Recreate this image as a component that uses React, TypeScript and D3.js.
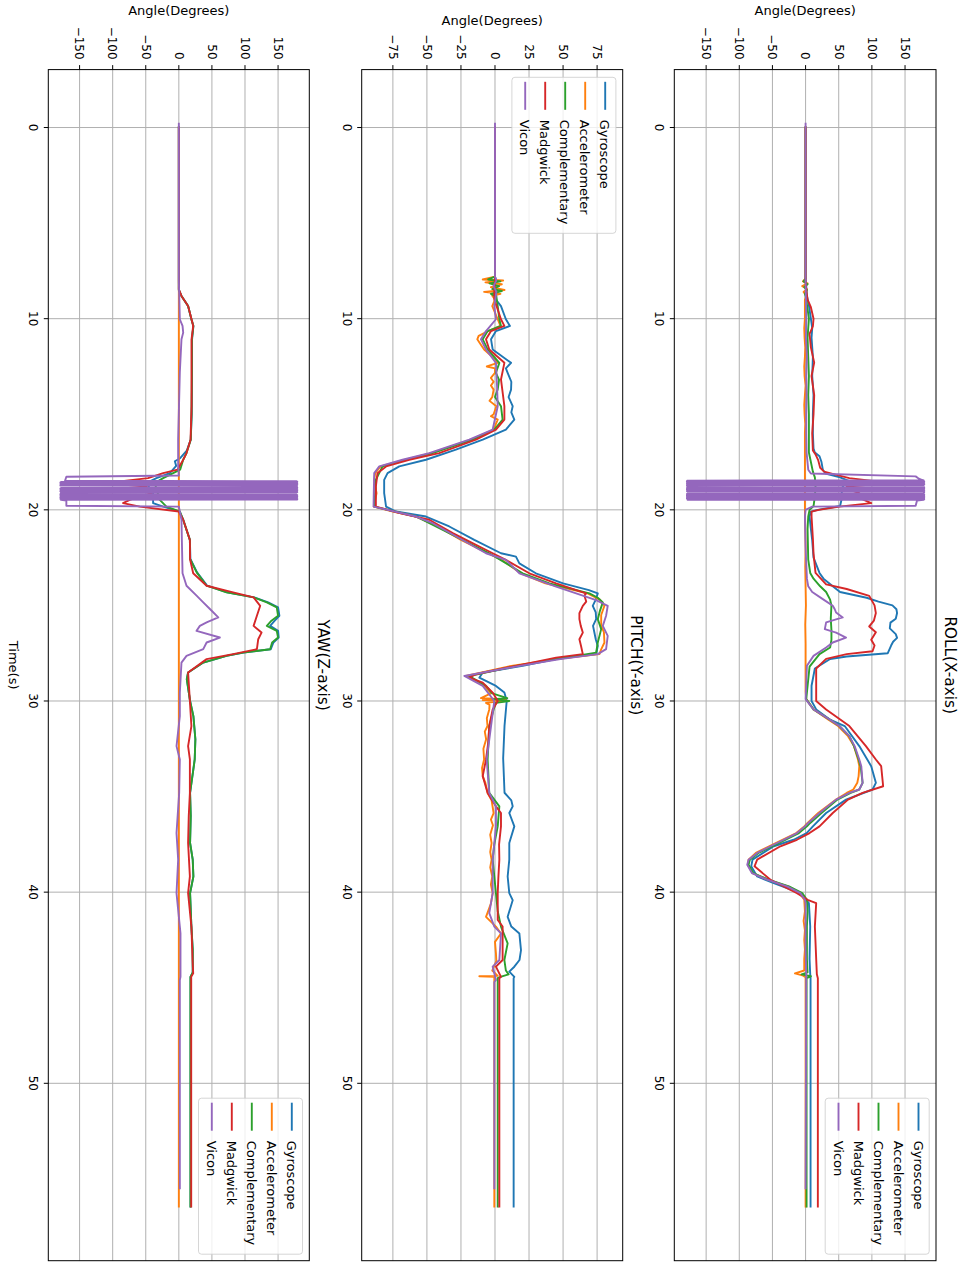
import React from 'react';
import * as d3 from 'd3';

type Pt = [number, number];

// legend / colours (matplotlib tab10)
const seriesNames = ['Gyroscope', 'Accelerometer', 'Complementary', 'Madgwick', 'Vicon'];
const seriesColors = ['#1f77b4', '#ff7f0e', '#2ca02c', '#d62728', '#9467bd'];

const timeTicks = [0, 10, 20, 30, 40, 50];
const rollTicks = [-150, -100, -50, 0, 50, 100, 150];
const pitchTicks = [-75, -50, -25, 0, 25, 50, 75];
const yawTicks = [-150, -100, -50, 0, 50, 100, 150];

// ---------------- ROLL ----------------
const rollGyro: Pt[] = [
  [0, 0], [7.9, 0], [8.3, 1], [8.8, 2], [9.3, 5], [10.0, 8], [10.5, 10], [11.0, 9], [12.0, 11], [13.0, 10],
  [14.0, 12], [15.0, 11], [16.0, 11], [16.8, 12], [17.0, 14], [17.2, 21], [17.5, 24], [17.9, 26], [18.1, 30],
  [18.3, 52], [18.5, 66], [18.7, 58], [18.9, 54], [19.2, 55], [19.5, 54], [19.8, 52], [20.0, 18], [20.1, 8],
  [20.35, 6], [21.0, 8], [21.6, 10], [22.5, 12], [23.3, 21], [23.6, 27], [24.0, 41], [24.3, 52], [24.6, 92],
  [24.8, 110], [25.0, 131], [25.2, 137], [25.4, 138], [25.7, 136], [25.9, 128], [26.2, 127], [26.5, 136],
  [26.7, 138], [26.9, 132], [27.1, 129], [27.5, 124], [27.67, 62], [27.8, 37], [28.3, 14], [29.2, 9], [30.0, 9],
  [30.44, 16], [30.96, 36], [31.31, 59], [32.36, 81], [33.41, 99], [34.28, 106], [34.63, 101], [35.16, 61],
  [35.86, 31], [36.56, 11], [36.91, 1.5], [37.26, -18], [37.6, -48], [38.3, -80], [38.65, -82], [39.18, -73],
  [39.53, -48], [40.05, -8], [40.58, 5], [41.8, 7], [43.5, 6], [44.3, 7], [44.5, 7.5], [56.45, 7.5],
];
const rollAcc: Pt[] = [
  [0, 0], [7.9, 0], [8.05, -4], [8.15, 3], [8.3, -5], [8.45, 2], [8.6, -3], [8.8, 1], [9.0, -1], [10, -1],
  [10.5, -2], [11, -1.5], [11.5, -0.5], [12, -1], [12.5, -2], [13, -1.5], [13.5, 0], [14, -1], [14.5, -2],
  [15, -1.5], [15.5, -0.5], [16, -1], [17, -1], [18, -1], [19, -1], [20, -1], [21, -0.5], [22, 0], [23, -0.5],
  [24, 0], [25, 0.5], [26, -0.5], [27, 0], [28, 0], [29.5, 0], [29.9, 1],
  [30.44, 12], [30.96, 34], [31.31, 49], [31.84, 64], [32.36, 73], [33.06, 79], [33.41, 81], [33.93, 80],
  [34.28, 78], [34.63, 72], [34.81, 62], [35.16, 46], [35.86, 19], [36.38, 3], [36.56, -2], [36.91, -14],
  [37.26, -35], [37.6, -55], [37.95, -75], [38.3, -86], [38.57, -87], [39.0, -80], [39.35, -57], [39.7, -27],
  [40.05, -9], [40.4, -2], [41, -1], [41.5, -3], [42, -1], [42.5, -2], [43, -1], [43.5, -2], [44.1, -2],
  [44.25, -16], [44.35, -5], [44.45, 0], [56.45, 0],
];
const rollComp: Pt[] = [
  [0, 0], [7.9, 0], [8.05, -3], [8.2, 3], [8.35, -2], [8.5, 2], [8.7, -1], [9.0, 1], [9.5, 3], [10.0, 5],
  [11.0, 3], [12.0, 4], [13.0, 5], [14.0, 4], [15.0, 5], [16.0, 5], [17.0, 5], [17.5, 8], [18.0, 11], [18.3, 14],
  [18.8, 15], [19.3, 14], [19.8, 12], [20.0, 6], [20.35, 4], [21.0, 3], [22.6, 4], [23.3, 7], [23.6, 12],
  [24.0, 22], [24.3, 31], [24.7, 37], [25.0, 39], [25.7, 38], [26.3, 39], [26.8, 39], [27.2, 37], [27.55, 21],
  [28.2, 6], [29.9, 1], [30.44, 12], [30.96, 36], [31.31, 51], [31.84, 66], [32.36, 73], [33.06, 80],
  [33.41, 83], [34.28, 86], [34.63, 81], [34.81, 68], [35.16, 48], [35.86, 24], [36.38, 7], [36.56, 2],
  [36.91, -10], [37.26, -30], [37.6, -50], [37.95, -71], [38.3, -84], [38.57, -86], [39.0, -79], [39.35, -56],
  [39.7, -25], [40.05, -5], [40.4, 2], [41.0, 3], [41.8, 2], [43.5, 2], [44.2, 3], [44.3, -6], [44.4, 8],
  [44.5, 1.5], [56.45, 1.5],
];
const rollMadg: Pt[] = [
  [0, 0], [8.0, 0], [8.5, 1], [9.0, 3], [9.4, 8], [10.0, 12], [10.4, 11], [10.8, 6], [11.5, 8], [12.3, 13],
  [13.0, 9], [14.0, 13], [15.0, 12], [16.0, 10], [16.9, 11], [17.1, 15], [17.4, 19], [17.8, 22], [18.0, 28],
  [18.16, 45], [18.34, 66], [18.6, 129], [18.78, 62], [19.0, 70], [19.13, 81], [19.3, 76], [19.65, 99],
  [19.83, 51], [20.0, 20], [20.09, 9], [20.35, 9], [21.5, 11], [22.3, 12], [23.3, 15], [23.9, 31], [24.14, 62],
  [24.5, 96], [25.0, 104], [25.4, 106], [25.8, 103], [26.1, 96], [26.4, 106], [26.8, 99], [27.1, 104],
  [27.4, 101], [27.55, 62], [27.8, 31], [28.3, 16], [29.6, 16], [30.0, 16], [30.44, 31], [31.31, 66],
  [32.36, 91], [33.06, 106], [33.41, 114], [34.46, 117], [34.81, 86], [35.16, 64], [35.86, 41], [36.56, 21],
  [36.91, 6], [37.26, -13], [37.6, -38], [38.3, -73], [38.65, -77], [39.35, -53], [40.05, -13], [40.4, 3],
  [40.58, 16], [41.8, 14], [43.5, 16], [44.3, 17], [44.5, 18.5], [56.45, 18.5],
];
const rollVicon: Pt[] = [
  [-0.2, 0], [8, 0], [9, 0.5], [10, 1], [11, 0.5], [12, 2], [13, 1], [14, 1.5], [15, 1], [16, 1], [17, 1.5],
  [17.9, 4], [18.1, 8], [18.25, 166], [18.35, 170], [18.44, 176],
  [18.46, 178], [18.47, -178], [18.5, -179], [18.51, 179], [18.54, 178], [18.55, -179], [18.58, -178],
  [18.59, 179], [18.62, 178], [18.63, -179], [18.66, -178], [18.67, 179], [18.7, 178], [18.71, -179],
  [18.81, -178], [18.82, 179], [18.85, 178], [18.86, -179], [18.89, -178], [18.9, 179], [18.93, 178],
  [18.94, -179], [18.97, -178], [18.98, 179], [19.01, 178], [19.02, -179], [19.05, -178], [19.06, 179],
  [19.16, 178], [19.17, -179], [19.2, -178], [19.21, 179], [19.24, 178], [19.25, -179], [19.28, -178],
  [19.29, 179], [19.32, 178], [19.33, -179], [19.36, -178], [19.37, 179], [19.4, 178], [19.41, -179],
  [19.44, -178], [19.45, 179], [19.46, 178], [19.47, -178], [19.48, 178],
  [19.52, 168], [19.79, 166], [19.83, 10], [20.0, 0], [20.35, -1],
  [22, 0], [23.6, 2], [24.0, 4], [24.3, 10], [24.67, 26], [25.02, 41], [25.2, 44], [25.37, 46], [25.63, 56],
  [25.89, 31], [26.24, 29], [26.42, 46], [26.68, 61], [26.94, 41], [27.2, 31], [27.64, 12], [28.16, 2],
  [29.9, 0], [30.44, 12], [30.96, 36], [31.31, 51], [31.84, 66], [32.36, 74], [33.06, 81], [33.41, 84],
  [34.28, 86], [34.63, 81], [34.81, 66], [35.16, 46], [35.86, 21], [36.38, 4], [36.56, -1], [36.91, -13],
  [37.26, -33], [37.6, -53], [37.95, -73], [38.3, -86], [38.57, -88], [39.0, -81], [39.35, -58], [39.7, -28],
  [40.05, -8], [40.4, -1], [40.58, 0], [43, 0], [44.3, 1], [55.49, 0],
];

// ---------------- PITCH ----------------
const pitchGyro: Pt[] = [
  [0, 0], [7.8, 0], [8.0, 1], [8.4, -1], [8.7, 1], [9.0, 0.7], [9.34, 4.4], [10.03, 8], [10.38, 11], [10.65, 0.7],
  [11.08, -2.9], [11.61, -1.7], [12.31, 11.8], [12.6, 8], [12.83, 9.3], [13.3, 12], [13.71, 11.8], [14.1, 10],
  [14.58, 13], [14.9, 12], [15.28, 14.2], [15.8, 8],
  [16.33, -9], [16.85, -28.7], [17.38, -50.7], [17.73, -70.3], [18.08, -78.9], [18.43, -81.4], [19.13, -81.4],
  [19.83, -80], [20.09, -72.8], [20.35, -50.7], [20.87, -33.6], [21.57, -15.2], [22.27, 4.4], [22.45, 15.4],
  [22.8, 17.9], [23.32, 30], [23.85, 50], [24.2, 69], [24.37, 75.5], [24.7, 74], [25.02, 71.8], [25.37, 74],
  [25.72, 74.3], [26.07, 72], [26.42, 73], [26.77, 74], [27.12, 75.5], [27.55, 74.3], [27.81, 44.9],
  [28.16, 20.3], [28.51, -9], [28.78, -11.5], [29.21, 0.7], [29.56, 6.9], [30.0, 8.6], [31.3, 7], [33.0, 6],
  [34.8, 7], [35.2, 12], [35.51, 13], [35.86, 10.5], [36.56, 14.2], [37.43, 10.5], [38.3, 10.5], [39.18, 9.3],
  [40.05, 10.5], [40.42, 13], [41.29, 9.3], [41.8, 12], [42.16, 17.9], [43.03, 19.1], [43.55, 18], [43.9, 14.2],
  [44.16, 10.5], [44.43, 14.2], [44.5, 13.7], [56.45, 13.7],
];
const pitchAcc: Pt[] = [
  [0, 0], [7.8, 0], [7.95, -9], [8.0, 6], [8.1, -7], [8.2, 5], [8.35, -3], [8.5, 7], [8.6, -8], [8.7, 4],
  [8.8, -2], [9.0, 0], [9.34, -2], [10.03, 2], [10.38, 4], [10.65, -5], [10.9, -12], [11.08, -13], [11.4, -10],
  [11.61, -8], [12.0, -2], [12.31, 2], [12.5, -6], [12.6, 0], [12.83, 0], [13.1, -3], [13.3, -1], [13.5, -3],
  [13.71, -1], [14.1, -2], [14.3, -4], [14.58, 1], [15.0, -1], [15.1, -3], [15.28, 2], [15.8, -1],
  [16.33, -17.5], [17.03, -47], [17.38, -66], [17.73, -84],
  [18.08, -88], [18.43, -88.7], [19.13, -87], [19.83, -89], [20.09, -75], [20.35, -58], [20.87, -42],
  [21.57, -25], [22.27, -5.4], [22.62, 5], [23.32, 19], [23.85, 37], [24.37, 68], [24.7, 77], [25.02, 80.4],
  [25.5, 78], [26.07, 78], [26.4, 80], [26.94, 80.4], [27.3, 78], [27.55, 76.7], [27.81, 44.9], [28.16, 12],
  [28.69, -21.3], [29.04, -12], [29.21, -7.8], [29.6, -3], [29.85, -10.3], [29.9, 8], [29.95, -9], [30.0, 5.6],
  [30.1, -6.6], [30.2, -4], [30.44, -4.2], [30.9, -6], [31.31, -5.5], [31.6, -7.5], [32, -6.5], [32.5, -8.5],
  [33.06, -8], [33.5, -9.5], [33.93, -9], [34.3, -7], [34.81, -5.4], [35.2, -2.5], [35.86, -1], [36.2, -3],
  [36.5, -1.5], [37.0, -3.5], [37.43, -2.5], [37.9, -3.5], [38.3, -2.5], [38.7, -3.5], [39.18, -2], [39.6, -3],
  [40.05, -1.7], [40.6, -3], [41.29, -6.6],
  [41.8, 0.7], [42.16, 4.4], [42.6, 0], [43.21, 0.7], [43.6, 1], [44.1, -2], [44.38, 2], [44.4, -11.5],
  [44.43, -0.5], [56.45, -0.5],
];
const pitchComp: Pt[] = [
  [0, 0], [7.8, 0], [7.95, -5], [8.05, 4], [8.15, -4], [8.3, 3], [8.45, -2], [8.55, 5], [8.7, -3], [8.85, 1],
  [9.34, 2], [10.03, 3.2], [10.38, 4.4], [10.65, -5.4], [11.08, -9], [11.61, -5.4], [12.31, 3.2], [12.83, 0.7],
  [13.2, 3], [13.7, 2], [14.1, 0], [14.58, 4.4], [15.28, 5.6], [15.8, -0.5], [16.33, -16.4], [17.03, -45.8], [17.38, -65.4],
  [17.73, -82.6], [18.43, -87.5], [19.13, -88], [19.83, -88.7], [20.35, -58], [21.22, -33.6], [22.27, -4.2],
  [22.62, 4], [23.32, 20.3], [23.85, 40], [24.37, 69.4], [24.6, 75.5], [24.84, 79.2], [25.3, 77], [25.72, 75.5],
  [26.24, 78], [26.94, 75.5], [27.47, 74.3], [27.81, 44.9], [28.16, 16], [28.69, -18.9], [29.21, -6.6],
  [29.6, -2], [29.85, 9], [29.9, -1], [30.0, 10.5], [30.1, 0.7], [30.44, -1], [31.31, -4.2], [33.06, -5.4],
  [34.81, -4.2], [35.51, 3.2], [36.56, 2], [37.5, -0.5], [38.3, -1.7], [39.18, -0.5], [40.05, 0.7], [41.0, 2],
  [41.8, 4.4], [42.68, 9.3], [43.55, 6.9], [44.1, 8], [44.3, 10], [44.43, 4], [44.5, 2], [56.45, 2],
];
const pitchMadg: Pt[] = [
  [0, 0], [8.0, 0], [8.5, -0.5], [8.99, -0.5], [10.03, 4.4], [10.38, 6.9], [10.65, -2.9], [11.08, -6.6],
  [11.61, -4.2], [12.31, 6.9], [13.18, 4.4], [14.58, 6.9], [15.28, 6.9], [15.8, 0.7], [16.33, -14], [17.03, -41],
  [17.38, -63], [17.73, -80], [18.08, -86.3], [18.78, -87.5], [19.83, -87.5], [20.17, -70], [20.52, -48.3],
  [21.22, -31], [22.27, -1.7], [22.62, 8], [23.32, 25.2], [23.85, 44.9], [24.37, 66.9], [24.49, 65.7],
  [24.8, 67], [25.02, 64.5], [25.4, 62], [25.72, 62], [26.07, 63], [26.42, 64.5], [26.77, 62], [27.12, 63.2],
  [27.55, 64.5], [27.73, 44.9], [28.16, 15.4], [28.6, -14], [28.78, -18.9], [29.04, -9], [29.56, -1.7],
  [30.0, 2], [30.44, -1.7], [31.31, -4.2], [32.2, -5], [33.06, -6.6], [33.93, -9], [34.81, -5.4], [35.51, 0.7],
  [35.86, 4.4], [36.56, 4.4], [37.5, 3], [38.3, 3.2], [39.2, 2.5], [40.05, 2], [41.45, 2], [41.8, 5.6],
  [42.16, 5.6], [43.55, 5.6], [43.9, 0.7], [44.43, 4.4], [44.5, 3.2], [56.45, 3.2],
];
const pitchVicon: Pt[] = [
  [-0.2, 0], [7.8, 0], [8.0, 1], [8.3, -1], [8.6, 1], [9.34, -0.5], [10.03, 0.7], [10.65, -6.6], [11.08, -10.3],
  [11.61, -6.6], [12.31, 0.7], [13.5, 1.5], [14.58, 2], [15.8, -1.7], [16.33, -18.9], [17.03, -48.3],
  [17.38, -67.9], [17.73, -85], [18.08, -88.7], [19.0, -89], [19.83, -89.2], [20.35, -58], [20.7, -45.8],
  [22.27, -6.6], [22.62, 8], [23.32, 17.9], [24.02, 44.9], [24.72, 74.3], [25.02, 82.8], [25.54, 81.6],
  [26.07, 79.2], [26.59, 82.8], [27.29, 81.6], [27.55, 75.5], [27.81, 48], [28.16, 18], [28.69, -22.5],
  [29.21, -9], [30.0, -0.5], [31.31, -2.9], [33.06, -6.1], [34.81, -4.2], [35.51, 0.7], [36.56, 0.7],
  [38.3, -1.7], [40.05, -1.7], [41.1, -4.2], [41.8, -0.5], [42.16, 4.4], [43.55, 3.2], [43.9, -1.7],
  [44.6, 0.7], [44.7, -0.5], [55.49, -0.5],
];

// ---------------- YAW ----------------
const yawGyro: Pt[] = [
  [0, 0], [8.5, 0], [8.81, 4], [9.34, 14], [10.03, 19], [10.38, 22], [11.08, 20], [13, 20], [15, 19.5],
  [16.33, 18], [16.9, 12], [17.3, 2], [17.46, -6], [17.7, -4], [18.08, -13.6], [18.34, -33.8], [18.6, -49],
  [19.13, -38.9], [19.65, -38.9], [19.83, -23.7], [20.09, 1.5], [20.52, 6.6], [21.57, 16.7], [22.57, 17.5],
  [23.27, 27.5], [23.97, 43], [24.32, 73], [24.58, 114], [24.84, 135], [25.1, 150], [25.54, 152], [25.8, 145],
  [26.07, 138], [26.33, 150], [26.68, 151], [26.94, 143], [27.29, 139], [27.47, 98], [27.64, 72], [27.99, 37],
  [28.51, 14], [28.86, 12], [30, 17], [30.79, 22], [32, 25], [33.06, 24], [34.81, 17], [36, 18], [37.43, 17],
  [38.3, 21], [39.18, 22], [40.05, 17], [41.8, 19], [43, 21], [44.2, 21], [44.43, 17.7], [56.45, 17.7],
];
const yawAcc: Pt[] = [[0, 0], [20, 0], [40, 0], [56.45, 0]];
const yawComp: Pt[] = [
  [0, 0], [8.5, 0], [8.81, 4], [9.34, 14], [10.03, 19], [10.38, 22], [11.08, 19.7], [13, 19.7], [15, 19.2],
  [16.33, 18], [17.03, 11.6], [17.38, 6.6], [17.9, 2], [18.08, -8.6], [18.34, -23.7], [18.6, -36.4], [19.0, -33],
  [19.48, -28.8], [19.83, -18.7], [20.09, 1.5], [20.52, 6.6], [21.57, 16.7], [22.57, 17], [23.27, 27],
  [23.97, 42], [24.32, 72], [24.58, 113], [24.84, 133], [25.1, 148], [25.54, 150], [25.8, 140], [26.07, 133],
  [26.33, 148], [26.68, 150], [26.94, 141], [27.29, 138], [27.47, 97], [27.64, 72], [27.99, 37], [28.51, 14],
  [28.86, 12], [30.0, 17], [30.79, 22], [32, 25], [33.06, 24], [34.81, 17], [36, 18], [37.43, 17], [38.3, 21],
  [39.18, 22], [40.05, 17], [41.8, 19], [43, 21], [44.2, 21], [44.43, 17.5], [56.45, 17.5],
];
const yawMadg: Pt[] = [
  [0, 0], [8.46, 0], [8.81, 4], [9.34, 14], [10.03, 19.2], [10.38, 21.7], [11.08, 19.2], [13, 19.2],
  [14.58, 19.2], [16.33, 17.7], [17.03, 11.6], [17.38, 6.6], [17.9, -2], [18.08, -23.7], [18.34, -46.5],
  [18.6, -112], [18.78, -49], [19.13, -41.4], [19.48, -74.2], [19.65, -84.3], [19.83, -59], [20.09, 0],
  [20.52, 6.6], [21.57, 16.7], [22.6, 17], [23.32, 21.7], [23.97, 42], [24.32, 82], [24.58, 113], [25.02, 123],
  [25.54, 118], [26.07, 113], [26.42, 125], [26.77, 120], [27.29, 118], [27.55, 82], [27.81, 42], [28.51, 14],
  [30, 16.7], [31.31, 19], [32.36, 14], [33.06, 16.7], [34.81, 16.7], [36.0, 15], [37.43, 14], [39.18, 16.7],
  [40.05, 14], [41.8, 19], [43.55, 20.7], [44.25, 21.7], [44.43, 18.7], [56.45, 18.7],
];
const yawVicon: Pt[] = [
  [-0.2, 0], [8, 0], [10.03, 1.5], [10.38, 5.6], [10.73, 6.6], [11.08, 4], [12.8, 1.5], [16.3, -1], [17.73, -1],
  [18.2, 0], [18.27, -170], [18.48, -172],
  [18.5, 178], [18.53, 179], [18.54, -178], [18.57, -179], [18.58, 178], [18.61, 179], [18.62, -178],
  [18.65, -179], [18.66, 178], [18.69, 179], [18.7, -178], [18.73, -179], [18.74, 178],
  [18.84, 179], [18.85, -178], [18.88, -179], [18.89, 178], [18.92, 179], [18.93, -178], [18.96, -179],
  [18.97, 178], [19.0, 179], [19.01, -178], [19.04, -179], [19.05, 178], [19.08, 179], [19.09, -178],
  [19.19, -179], [19.2, 178], [19.23, 179], [19.24, -178], [19.27, -179], [19.28, 178], [19.31, 179],
  [19.32, -178], [19.35, -179], [19.36, 178], [19.39, 179], [19.4, -178], [19.43, -179], [19.44, 178],
  [19.46, 179], [19.47, -178], [19.48, -178],
  [19.52, -170], [19.79, -170], [19.83, 0], [20.52, 4], [23.32, 5.6], [23.97, 11.6], [24.49, 26.8],
  [24.84, 36.9], [25.19, 47], [25.63, 59.6], [25.89, 42], [26.07, 31.8], [26.33, 26.8], [26.68, 62],
  [26.94, 42], [27.29, 36.9], [27.64, 11.6], [27.99, 4], [29.56, 1.5], [30.79, 1.5], [32.36, -3.5],
  [33.06, 1.5], [34.81, 0.5], [36.91, -3.5], [38.3, -1], [40.05, -3.5], [41.8, 1.5], [42.16, 2.5],
  [44.43, 2.5], [44.6, 1.5], [55.49, 1.5],
];

// figure is drawn unrotated (1262 x 966) and then turned 90deg clockwise
const FONT = "'DejaVu Sans', sans-serif";
const x = d3.scaleLinear().domain([-3.03, 59.28]).range([69.6, 1260.7]);

const panels = [
  { title: 'ROLL(X-axis)', top: 30, bottom: 291.7, domain: [-198, 196.7], ticks: rollTicks,
    data: [rollGyro, rollAcc, rollComp, rollMadg, rollVicon], legend: 'right', ylabelX: 15, xlabel: false },
  { title: 'PITCH(Y-axis)', top: 343.3, bottom: 604.3, domain: [-97.9, 93.8], ticks: pitchTicks,
    data: [pitchGyro, pitchAcc, pitchComp, pitchMadg, pitchVicon], legend: 'left', ylabelX: 25, xlabel: false },
  { title: 'YAW(Z-axis)', top: 656.7, bottom: 917.7, domain: [-197.3, 197.2], ticks: yawTicks,
    data: [yawGyro, yawAcc, yawComp, yawMadg, yawVicon], legend: 'right', ylabelX: 15, xlabel: true },
];

const fmt = (v: number) => (v < 0 ? `\u2212${Math.abs(v)}` : `${v}`);

function Panel({ p, idx }: { p: typeof panels[number]; idx: number }) {
  const y = d3.scaleLinear().domain(p.domain).range([p.bottom, p.top]);
  const line = d3.line<Pt>().x(d => x(d[0])).y(d => y(d[1]));
  const [x0, x1] = x.range();
  const cx = (x0 + x1) / 2;
  const cy = (p.top + p.bottom) / 2;
  const boxW = 156;
  const boxH = 104;
  const boxX = p.legend === 'right' ? x1 - 6.5 - boxW : x0 + 7.7;
  const boxY = p.top + 6.8;
  const clipId = `clip-${idx}`;

  return (
    <g>
      <defs>
        <clipPath id={clipId}>
          <rect x={x0} y={p.top} width={x1 - x0} height={p.bottom - p.top} />
        </clipPath>
      </defs>
      {/* grid */}
      {timeTicks.map(t => (
        <line key={`gx${t}`} x1={x(t)} x2={x(t)} y1={p.top} y2={p.bottom} stroke="#b0b0b0" strokeWidth={1} />
      ))}
      {p.ticks.map(v => (
        <line key={`gy${v}`} x1={x0} x2={x1} y1={y(v)} y2={y(v)} stroke="#b0b0b0" strokeWidth={1} />
      ))}
      {/* series */}
      <g clipPath={`url(#${clipId})`}>
        {p.data.map((d, i) => (
          <path key={i} d={line(d) ?? ''} fill="none" stroke={seriesColors[i]} strokeWidth={1.9}
            strokeLinejoin="round" strokeLinecap="square" />
        ))}
      </g>
      {/* frame */}
      <rect x={x0} y={p.top} width={x1 - x0} height={p.bottom - p.top} fill="none" stroke="#000" strokeWidth={1} />
      {/* time ticks */}
      {timeTicks.map(t => (
        <g key={`tx${t}`}>
          <line x1={x(t)} x2={x(t)} y1={p.bottom} y2={p.bottom + 4.5} stroke="#000" strokeWidth={1} />
          <text x={x(t)} y={p.bottom + 19} textAnchor="middle" fontSize={12} fontFamily={FONT}>{t}</text>
        </g>
      ))}
      {/* angle ticks */}
      {p.ticks.map(v => (
        <g key={`ty${v}`}>
          <line x1={x0 - 4.5} x2={x0} y1={y(v)} y2={y(v)} stroke="#000" strokeWidth={1} />
          <text x={x0 - 10} y={y(v)} dy="0.35em" textAnchor="end" fontSize={12} fontFamily={FONT}>{fmt(v)}</text>
        </g>
      ))}
      <text transform={`translate(${p.ylabelX},${cy}) rotate(-90)`} textAnchor="middle" fontSize={13}
        fontFamily={FONT}>Angle(Degrees)</text>
      <text x={cx} y={p.top - 8.5} textAnchor="middle" fontSize={15.3} fontFamily={FONT}>{p.title}</text>
      {p.xlabel && (
        <text x={cx} y={957} textAnchor="middle" fontSize={13} fontFamily={FONT}>Time(s)</text>
      )}
      {/* legend */}
      <g>
        <rect x={boxX} y={boxY} width={boxW} height={boxH} rx={3} fill="#fff" fillOpacity={0.8}
          stroke="#cccccc" strokeOpacity={0.8} strokeWidth={1} />
        {seriesNames.map((name, i) => {
          const ly = boxY + 10.7 + i * 20;
          return (
            <g key={name}>
              <line x1={boxX + 4.5} x2={boxX + 32.5} y1={ly} y2={ly} stroke={seriesColors[i]} strokeWidth={1.9} />
              <text x={boxX + 42.5} y={ly} dy="0.38em" fontSize={13} fontFamily={FONT}>{name}</text>
            </g>
          );
        })}
      </g>
    </g>
  );
}

export default function App() {
  return (
    <svg width={966} height={1262} style={{ position: 'absolute', left: 0, top: 0, background: '#fff' }}>
      <rect width={966} height={1262} fill="#fff" />
      <g transform="translate(966,0) rotate(90)">
        {panels.map((p, i) => (
          <Panel key={p.title} p={p} idx={i} />
        ))}
      </g>
    </svg>
  );
}
